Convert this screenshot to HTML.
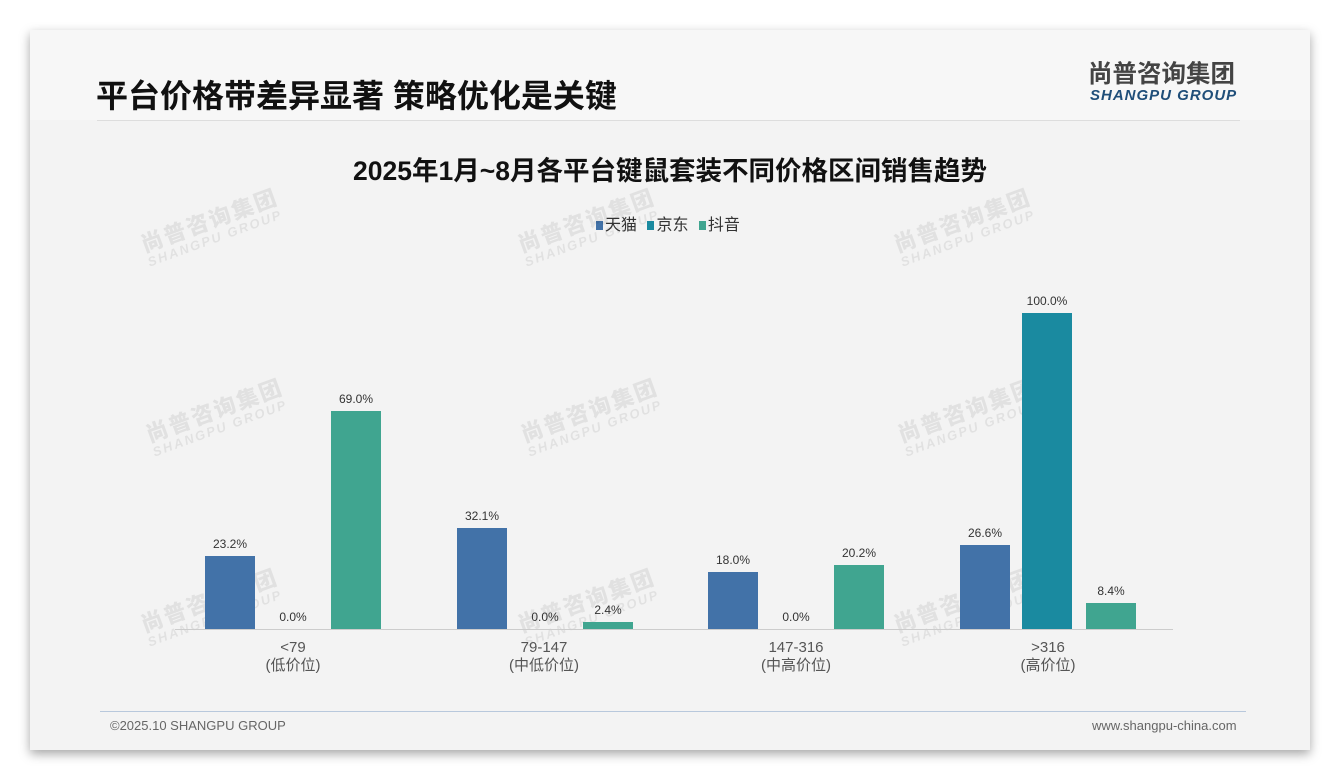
<!DOCTYPE html><html><head><meta charset="utf-8"><style>
body{margin:0;width:1340px;height:780px;background:#fff;position:relative;overflow:hidden;font-family:"Liberation Sans","Noto Sans CJK SC",sans-serif}
.card{position:absolute;left:30px;top:30px;width:1280px;height:720px;background:#f3f3f3;box-shadow:0 4px 10px rgba(0,0,0,.35)}
.hdr{position:absolute;left:30px;top:30px;width:1280px;height:90px;background:#f7f7f7}
.t{position:absolute;white-space:nowrap}
.wm{position:absolute;color:rgba(0,0,0,.07);font-weight:bold;transform:rotate(-20deg);white-space:nowrap;line-height:1}
.wm b{display:block;font-size:22px;letter-spacing:2px}.wm i{display:block;font-size:13px;font-style:italic;letter-spacing:2px}
.bar{position:absolute;width:50px}
.v{position:absolute;width:60px;text-align:center;font-size:12px;color:#333}
.c{position:absolute;width:120px;text-align:center;font-size:15px;color:#555;line-height:18px}
.lg{display:inline-block;width:7px;height:9px;margin:0 2px 0 6px}
</style></head><body>
<div class="card"></div><div class="hdr"></div>
<div class="t" style="left:96px;top:71px;font-size:32px;font-weight:bold;color:#111">平台价格带差异显著 策略优化是关键</div>
<div class="t" style="left:1088px;top:60px;font-size:24.5px;line-height:30px;font-weight:bold;color:#444">尚普咨询集团</div>
<div class="t" style="left:1090px;top:88px;font-size:15px;line-height:16px;font-weight:bold;font-style:italic;color:#1f4e79;letter-spacing:1px">SHANGPU GROUP</div>
<div style="position:absolute;left:97px;top:120px;width:1143px;height:1px;background:#ddd"></div>
<div class="t" style="left:0;width:1340px;text-align:center;top:149px;font-size:26.5px;font-weight:bold;color:#111">2025年1月~8月各平台键鼠套装不同价格区间销售趋势</div>
<div class="t" style="left:590px;top:211px;font-size:16px;color:#333"><span class="lg" style="background:#4272a8"></span>天猫 <span class="lg" style="background:#1a8aa0"></span>京东 <span class="lg" style="background:#40a590"></span>抖音</div>
<div class="wm" style="left:140px;top:210px"><b>尚普咨询集团</b><i>SHANGPU GROUP</i></div>
<div class="wm" style="left:517px;top:210px"><b>尚普咨询集团</b><i>SHANGPU GROUP</i></div>
<div class="wm" style="left:893px;top:210px"><b>尚普咨询集团</b><i>SHANGPU GROUP</i></div>
<div class="wm" style="left:145px;top:400px"><b>尚普咨询集团</b><i>SHANGPU GROUP</i></div>
<div class="wm" style="left:520px;top:400px"><b>尚普咨询集团</b><i>SHANGPU GROUP</i></div>
<div class="wm" style="left:897px;top:400px"><b>尚普咨询集团</b><i>SHANGPU GROUP</i></div>
<div class="wm" style="left:140px;top:590px"><b>尚普咨询集团</b><i>SHANGPU GROUP</i></div>
<div class="wm" style="left:517px;top:590px"><b>尚普咨询集团</b><i>SHANGPU GROUP</i></div>
<div class="wm" style="left:893px;top:590px"><b>尚普咨询集团</b><i>SHANGPU GROUP</i></div>
<div style="position:absolute;left:175px;top:629px;width:998px;height:1px;background:#ccc"></div>
<div class="bar" style="left:205px;top:556px;height:73px;background:#4272a8"></div><div class="v" style="left:200px;top:537px">23.2%</div>
<div class="v" style="left:263px;top:610px">0.0%</div>
<div class="bar" style="left:331px;top:411px;height:218px;background:#40a590"></div><div class="v" style="left:326px;top:392px">69.0%</div>
<div class="bar" style="left:457px;top:528px;height:101px;background:#4272a8"></div><div class="v" style="left:452px;top:509px">32.1%</div>
<div class="v" style="left:515px;top:610px">0.0%</div>
<div class="bar" style="left:583px;top:622px;height:7px;background:#40a590"></div><div class="v" style="left:578px;top:603px">2.4%</div>
<div class="bar" style="left:708px;top:572px;height:57px;background:#4272a8"></div><div class="v" style="left:703px;top:553px">18.0%</div>
<div class="v" style="left:766px;top:610px">0.0%</div>
<div class="bar" style="left:834px;top:565px;height:64px;background:#40a590"></div><div class="v" style="left:829px;top:546px">20.2%</div>
<div class="bar" style="left:960px;top:545px;height:84px;background:#4272a8"></div><div class="v" style="left:955px;top:526px">26.6%</div>
<div class="bar" style="left:1022px;top:313px;height:316px;background:#1a8aa0"></div><div class="v" style="left:1017px;top:294px">100.0%</div>
<div class="bar" style="left:1086px;top:603px;height:26px;background:#40a590"></div><div class="v" style="left:1081px;top:584px">8.4%</div>
<div class="c" style="left:233px;top:639px">&lt;79<br>(低价位)</div>
<div class="c" style="left:484px;top:639px">79-147<br>(中低价位)</div>
<div class="c" style="left:736px;top:639px">147-316<br>(中高价位)</div>
<div class="c" style="left:988px;top:639px">&gt;316<br>(高价位)</div>
<div style="position:absolute;left:100px;top:711px;width:1146px;height:1px;background:#b8c8dc"></div>
<div class="t" style="left:110px;top:718px;font-size:13px;color:#666">©2025.10 SHANGPU GROUP</div>
<div class="t" style="left:1092px;top:718px;font-size:13px;color:#666">www.shangpu-china.com</div>
</body></html>
